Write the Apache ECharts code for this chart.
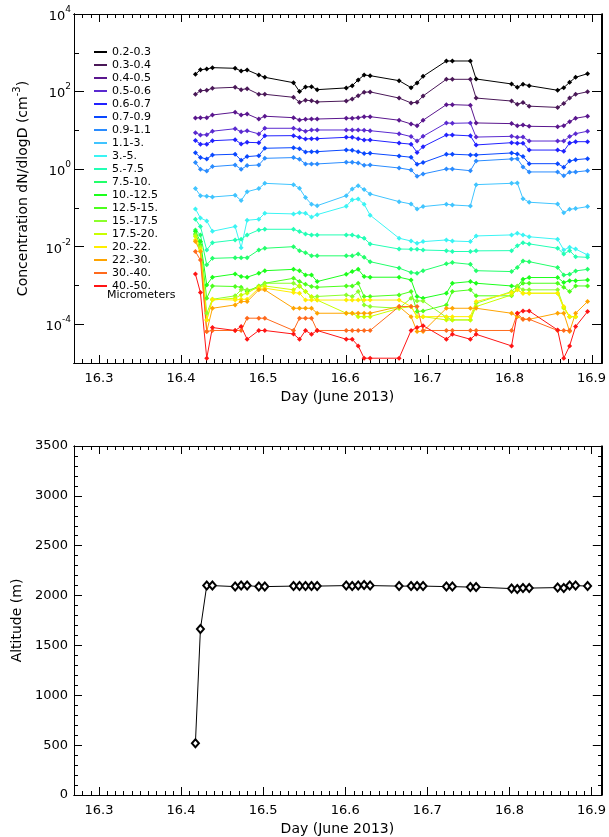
<!DOCTYPE html>
<html><head><meta charset="utf-8">
<script src="https://cdn.jsdelivr.net/npm/echarts@6.0.0/dist/echarts.min.js"></script>
<style>html,body{margin:0;padding:0;background:#fff}#c{width:609px;height:837px}</style>
</head><body><div id="c"></div>
<script>
// ---------- DATA ----------
const days = [16.4175, 16.4236, 16.4313, 16.4382, 16.4659, 16.4732, 16.4805, 16.4947, 16.5020,
  16.5370, 16.5443, 16.5516, 16.5589, 16.5658, 16.6012, 16.6085, 16.6158, 16.6230, 16.6303,
  16.6656, 16.6802, 16.6875, 16.6948, 16.7232, 16.7305, 16.7524, 16.7594, 16.8026, 16.8096,
  16.8165, 16.8241, 16.8587, 16.8662, 16.8733, 16.8806, 16.8952];

const altitude = [520, 1665, 2100, 2100, 2090, 2100, 2100, 2090, 2090, 2095, 2095, 2095, 2095, 2095,
  2100, 2095, 2100, 2105, 2100, 2095, 2095, 2095, 2095, 2090, 2090, 2085, 2085, 2070, 2065, 2075,
  2075, 2080, 2075, 2100, 2100, 2095];

const sizeBins = ['0.2-0.3', '0.3-0.4', '0.4-0.5', '0.5-0.6', '0.6-0.7', '0.7-0.9', '0.9-1.1',
  '1.1-3.', '3.-5.', '5.-7.5', '7.5-10.', '10.-12.5', '12.5-15.', '15.-17.5', '17.5-20.',
  '20.-22.', '22.-30.', '30.-40.', '40.-50.'];

const dN_02_03 = [279, 366, 382, 413, 398, 339, 360, 267, 233, 169, 100, 131, 134, 112, 124, 142, 200, 267, 257, 191, 126, 166, 247, 614, 614, 614, 211, 157, 129, 154, 142, 108, 126, 173, 233, 289];
const dN_03_04 = [85, 105, 108, 122, 129, 112, 119, 85, 85, 71, 53, 60, 58, 54, 57, 64, 78, 96, 98, 68, 51, 53, 77, 207, 207, 207, 68, 57, 47, 52, 42, 39, 49, 68, 85, 99];
const dN_04_05 = [20.8, 21.2, 21.2, 24.9, 29.2, 24.9, 26.4, 19.6, 23.1, 21.2, 18.5, 19.3, 19.6, 19.6, 20.5, 20.5, 21.2, 22.5, 22.5, 18.2, 14.6, 13.2, 18.2, 45.9, 45.9, 44.3, 15.5, 14.9, 13.2, 13.7, 12.7, 12.4, 13.2, 16.7, 20.5, 23.1];
const dN_05_06 = [8.7, 7.6, 7.7, 9.5, 11.0, 9.2, 9.8, 8.1, 11.3, 11.3, 10.4, 9.5, 10.2, 10.2, 10.2, 10.2, 10.2, 10.0, 9.8, 8.2, 6.9, 5.3, 7.0, 15.5, 15.2, 15.5, 6.7, 7.0, 6.6, 6.7, 5.3, 5.3, 5.3, 6.9, 8.2, 9.5];
const dN_06_07 = [5.5, 4.4, 4.4, 5.4, 5.75, 4.45, 4.9, 4.8, 7.2, 7.3, 6.5, 6.0, 6.1, 6.1, 6.6, 6.6, 6.1, 5.65, 5.65, 4.7, 4.4, 2.7, 3.8, 7.6, 7.6, 7.2, 4.2, 4.8, 4.65, 4.65, 3.1, 3.1, 2.9, 4.7, 5.1, 5.1];
const dN_07_09 = [2.65, 1.98, 1.83, 2.32, 2.42, 1.69, 2.1, 2.22, 3.45, 3.57, 3.37, 2.77, 2.82, 2.82, 3.12, 3.06, 2.82, 2.51, 2.56, 2.18, 2.02, 1.33, 1.47, 2.42, 2.42, 2.32, 2.32, 2.61, 2.46, 2.1, 1.38, 1.38, 1.12, 1.62, 1.75, 1.86];
const dN_09_11 = [1.47, 0.99, 0.895, 1.16, 1.28, 0.99, 1.23, 1.28, 1.9, 1.98, 1.8, 1.36, 1.36, 1.36, 1.5, 1.5, 1.44, 1.26, 1.28, 1.07, 0.95, 0.65, 0.75, 1.01, 1.01, 0.91, 1.62, 1.83, 1.86, 1.14, 0.845, 0.845, 0.67, 0.83, 0.845, 0.91];
const dN_11_3 = [0.314, 0.207, 0.2, 0.191, 0.212, 0.154, 0.262, 0.314, 0.43, 0.398, 0.32, 0.184, 0.124, 0.114, 0.207, 0.308, 0.375, 0.296, 0.229, 0.145, 0.126, 0.094, 0.108, 0.124, 0.119, 0.112, 0.398, 0.43, 0.44, 0.173, 0.14, 0.126, 0.075, 0.092, 0.096, 0.108];
const dN_3_5 = [0.094, 0.055, 0.046, 0.025, 0.033, 0.0094, 0.048, 0.051, 0.073, 0.07, 0.075, 0.073, 0.058, 0.067, 0.11, 0.163, 0.17, 0.124, 0.065, 0.0165, 0.014, 0.0122, 0.0135, 0.0149, 0.014, 0.0135, 0.0189, 0.0201, 0.0222, 0.0201, 0.018, 0.0156, 0.0082, 0.0097, 0.0087, 0.0061];
const dN_5_75 = [0.051, 0.033, 0.0082, 0.0127, 0.0149, 0.0155, 0.0201, 0.027, 0.0281, 0.0281, 0.0245, 0.0213, 0.0201, 0.0201, 0.0201, 0.0201, 0.0182, 0.0165, 0.0118, 0.0087, 0.0086, 0.0086, 0.0082, 0.0079, 0.0075, 0.0075, 0.0078, 0.0079, 0.0105, 0.0127, 0.0118, 0.0091, 0.0065, 0.0079, 0.0055, 0.0053];
const dN_75_10 = [0.027, 0.0201, 0.0034, 0.005, 0.0052, 0.0052, 0.0052, 0.0082, 0.0091, 0.01, 0.0079, 0.007, 0.0058, 0.0058, 0.0058, 0.0058, 0.0065, 0.0053, 0.0041, 0.0028, 0.00215, 0.00206, 0.0024, 0.0036, 0.0039, 0.0035, 0.0024, 0.00228, 0.0029, 0.0043, 0.0041, 0.0029, 0.00187, 0.00194, 0.00237, 0.0026];
const dN_10_125 = [0.0245, 0.0135, 0.00103, 0.00163, 0.00198, 0.00169, 0.00163, 0.00206, 0.0024, 0.0026, 0.0024, 0.00187, 0.00187, 0.00126, 0.00194, 0.00228, 0.0026, 0.00169, 0.00163, 0.00163, 0.00139, 0.00052, 0.00047, 0.00063, 0.00114, 0.00126, 0.00114, 0.00097, 0.00094, 0.00145, 0.0016, 0.0016, 0.00119, 0.00133, 0.00133, 0.00139];
const dN_125_15 = [0.0213, 0.0111, 0.00047, 0.00097, 0.00094, 0.0009, 0.000695, 0.00097, 0.00114, 0.00153, 0.00126, 0.00107, 0.00094, 0.0009, 0.00097, 0.00097, 0.00114, 0.00052, 0.00052, 0.00057, 0.000695, 0.000212, 0.00022, 0.000315, 0.000695, 0.00077, 0.00054, 0.00054, 0.00085, 0.00114, 0.00114, 0.00114, 0.0009, 0.000695, 0.00097, 0.00097];
const dN_15_175 = [0.0201, 0.01, 0.000192, 0.00044, 0.00054, 0.00077, 0.00077, 0.00085, 0.00114, 0.00114, 0.00094, 0.000695, 0.0005, 0.00052, 0.00057, 0.00052, 0.000695, 0.000315, 0.000285, 0.000258, 0.00047, 0.0004, 0.0004, 0.000151, 0.000129, 0.000129, 0.000347, 0.000695, 0.00097, 0.00077, 0.00077, 0.00077, 0.000275, 0.000157, 0.000157, null];
const dN_175_20 = [0.0182, 0.0091, 0.000129, 0.00042, 0.00047, 0.00057, 0.00063, 0.00094, 0.00097, 0.00077, 0.001, 0.000695, 0.00052, 0.00042, 0.000192, 0.000192, 0.000157, 0.000157, 0.000157, 0.000258, 0.000285, 0.000157, 0.000157, 0.000129, 0.000129, 0.000129, 0.000285, 0.00057, 0.00077, 0.00063, 0.00063, 0.00063, 0.000258, 0.000157, 0.000157, null];
const dN_20_22 = [0.0149, 0.0082, 0.000129, 0.00044, 0.00042, 0.00044, 0.00044, 0.00085, 0.00085, 0.000655, 0.00063, 0.00042, 0.00042, 0.00042, 0.00042, 0.00042, 0.00042, 0.00042, 0.00042, 0.00042, 0.000285, 0.000157, 0.000157, 0.000157, 0.000157, 0.000157, 0.000384, 0.000655, 0.00077, 0.00063, 0.00063, 0.00063, 0.000285, 0.000157, 0.000157, null];
const dN_22_30 = [0.0135, 0.0075, 0.000065, 0.000258, 0.000315, 0.000384, 0.000384, 0.00077, 0.00077, 0.000258, 0.000258, 0.000258, 0.000258, 0.000192, 0.000192, 0.000192, 0.000192, 0.000192, 0.000192, 0.000285, 0.000157, 0.000065, 0.000065, 0.000258, 0.000258, 0.000258, 0.000258, 0.000192, 0.000157, 0.000134, 0.000134, 0.000192, 0.000192, 0.000065, 0.000192, 0.000384];
const dN_30_40 = [0.0075, 0.0045, 0.000065, 0.000069, 0.000069, 0.000069, 0.000143, 0.000143, 0.000143, 0.000069, 0.000143, 0.000143, 0.000143, 0.000069, 0.000069, 0.000069, 0.000069, 0.000069, 0.000069, 0.000285, 0.000285, 0.000285, 0.000069, 0.000069, 0.000069, 0.000069, 0.000069, 0.000069, 0.000192, 0.000134, 0.000134, 0.000069, 0.000069, 0.000069, null, null];
const dN_40_50 = [0.00198, 0.000655, 0.0000133, 0.000082, 0.000069, 0.000087, 0.000041, 0.000069, 0.000069, 0.000056, 0.000041, 0.000069, 0.000055, 0.000069, 0.000041, 0.000041, 0.0000276, 0.0000133, 0.0000133, 0.0000133, 0.000069, 0.000082, 0.000092, 0.000041, 0.000055, 0.000041, 0.000055, 0.0000276, 0.000192, 0.00022, 0.00022, 0.000071, 0.0000133, 0.0000276, 0.000087, 0.000212];

const concentrations = [dN_02_03, dN_03_04, dN_04_05, dN_05_06, dN_06_07, dN_07_09, dN_09_11, dN_11_3,
  dN_3_5, dN_5_75, dN_75_10, dN_10_125, dN_125_15, dN_15_175, dN_175_20, dN_20_22, dN_22_30, dN_30_40, dN_40_50];

// tick values
const dayTicks = [16.3, 16.4, 16.5, 16.6, 16.7, 16.8, 16.9];
const concTicksLabeled = [1e-4, 1e-2, 1, 1e2, 1e4];
const concTicksOdd = [1e-5, 1e-3, 1e-1, 1e1, 1e3];
const altTicks = [0, 500, 1000, 1500, 2000, 2500, 3000, 3500];

// ---------- STYLE ----------
const binColors = ['#000000', '#4a1858', '#5a168e', '#5a2ad0', '#2222ff', '#0a48ff', '#2a8cff',
  '#40c4ff', '#3af4f4', '#22ffb4', '#22ff6a', '#1cff1c', '#4cff1c', '#8cff2c', '#c8ff00',
  '#ffee00', '#ffa400', '#ff6a1c', '#ff1414'];
const FONT = 'DejaVu Sans';
const X_MIN = 16.2696, X_MAX = 16.9113;
const Y_MIN = 1e-5, Y_MAX = 1e4;
const TICK = { color: '#000', width: 1 };

const dayMinor = [];
for (let i = 0; i <= 64; i++) {
  const v = Math.round((16.27 + i * 0.01) * 100) / 100;
  if (v > X_MAX) break;
  if (Math.abs(v * 10 - Math.round(v * 10)) > 1e-6) dayMinor.push(v);
}
const altMinor = [];
for (let v = 100; v < 3500; v += 100) if (v % 500 !== 0) altMinor.push(v);
const expOf = v => Math.round(Math.log10(v));

function xAx(g, pos, ticks, len, withLabels) {
  const a = {
    type: 'value', gridIndex: g, position: pos, min: X_MIN, max: X_MAX,
    axisLine: { show: true, onZero: false, lineStyle: { color: '#000', width: 1 } },
    axisTick: ticks ? { show: true, inside: true, length: len, customValues: ticks, lineStyle: TICK } : { show: false },
    axisLabel: { show: false },
    splitLine: { show: false }
  };
  if (withLabels) {
    a.axisLabel = { show: true, customValues: dayTicks, formatter: v => v.toFixed(1),
      fontSize: 13, fontFamily: FONT, color: '#000', margin: 9 };
    a.name = 'Day (June 2013)'; a.nameLocation = 'middle'; a.nameGap = 27;
    a.nameTextStyle = { fontSize: 14, fontFamily: FONT, color: '#000' };
  }
  return a;
}
// main log axis (series + labels)
function logY(pos, withLabels) {
  const a = {
    type: 'log', logBase: 10, gridIndex: 0, position: pos, min: Y_MIN, max: Y_MAX,
    axisLine: { show: true, onZero: false, lineStyle: { color: '#000', width: 1 } },
    axisTick: { show: false },
    axisLabel: { show: false },
    splitLine: { show: false }
  };
  if (withLabels) {
    a.axisLabel = {
      show: true, customValues: concTicksLabeled, margin: 3,
      formatter: v => '{b|10}{s|' + expOf(v) + '}',
      rich: {
        b: { fontSize: 13, fontFamily: FONT, color: '#000', lineHeight: 18, verticalAlign: 'bottom' },
        s: { fontSize: 9, fontFamily: FONT, color: '#000', lineHeight: 11, verticalAlign: 'top' }
      }
    };
    a.name = '{a|Concentration dN/dlogD (cm}{s|-3}{a|)}';
    a.nameLocation = 'middle'; a.nameGap = 44;
    a.nameTextStyle = { rich: {
      a: { fontSize: 14, fontFamily: FONT, color: '#000', lineHeight: 18, verticalAlign: 'bottom' },
      s: { fontSize: 10, fontFamily: FONT, color: '#000', lineHeight: 11, verticalAlign: 'top' } } };
  }
  return a;
}
// decade tick marks of the log axis, drawn on an overlay axis spanning the same decades
function decadeY(g, pos, ticks, len) {
  return {
    type: 'value', gridIndex: g, position: pos, min: expOf(Y_MIN), max: expOf(Y_MAX),
    axisLine: { show: true, onZero: false, lineStyle: { color: '#000', width: 1 } },
    axisTick: { show: true, inside: true, length: len, customValues: ticks.map(expOf), lineStyle: TICK },
    axisLabel: { show: false }, splitLine: { show: false }
  };
}
function altY(g, pos, ticks, len, withLabels) {
  const a = {
    type: 'value', gridIndex: g, position: pos, min: 0, max: 3500,
    axisLine: { show: true, onZero: false, lineStyle: { color: '#000', width: 1 } },
    axisTick: { show: true, inside: true, length: len, customValues: ticks, lineStyle: TICK },
    axisLabel: { show: false },
    splitLine: { show: false }
  };
  if (withLabels) {
    a.axisLabel = { show: true, customValues: altTicks, fontSize: 13, fontFamily: FONT, color: '#000',
      margin: 6, formatter: v => String(v) };
    a.name = 'Altitude (m)'; a.nameLocation = 'middle'; a.nameGap = 47;
    a.nameTextStyle = { fontSize: 14, fontFamily: FONT, color: '#000' };
  }
  return a;
}

const topGrid = { left: 74, top: 14, width: 528, height: 349 };
const botGrid = { left: 74, top: 446, width: 528, height: 349 };
const cp = o => Object.assign({}, o);

const series = sizeBins.map((name, i) => ({
  name, type: 'line', xAxisIndex: 0, yAxisIndex: 0,
  data: days.map((d, k) => [d, concentrations[i][k]]).filter(p => p[1] != null),
  symbol: 'diamond', symbolSize: 5,
  lineStyle: { width: 1, color: binColors[i] },
  itemStyle: { color: binColors[i] }
}));
series.push({
  name: 'Altitude', type: 'line', xAxisIndex: 6, yAxisIndex: 6,
  data: days.map((d, k) => [d, altitude[k]]),
  symbol: 'emptyDiamond', symbolSize: [7, 8],
  lineStyle: { width: 1, color: '#000' },
  itemStyle: { color: '#000', borderWidth: 1 }
});

const option = {
  animation: false,
  grid: [cp(topGrid), cp(topGrid), cp(topGrid), cp(botGrid), cp(botGrid)],
  xAxis: [
    xAx(0, 'bottom', null, 0, true),
    xAx(0, 'top', null, 0, false),
    xAx(1, 'bottom', dayTicks, 8, false),
    xAx(1, 'top', dayTicks, 8, false),
    xAx(2, 'bottom', dayMinor, 4, false),
    xAx(2, 'top', dayMinor, 4, false),
    xAx(3, 'bottom', dayTicks, 8, true),
    xAx(3, 'top', dayTicks, 8, false),
    xAx(4, 'bottom', dayMinor, 4, false),
    xAx(4, 'top', dayMinor, 4, false)
  ],
  yAxis: [
    logY('left', true),
    logY('right', false),
    decadeY(1, 'left', concTicksLabeled, 10),
    decadeY(1, 'right', concTicksLabeled, 10),
    decadeY(2, 'left', concTicksOdd, 5),
    decadeY(2, 'right', concTicksOdd, 5),
    altY(3, 'left', altTicks, 8, true),
    altY(3, 'right', altTicks, 8, false),
    altY(4, 'left', altMinor, 4, false),
    altY(4, 'right', altMinor, 4, false)
  ],
  legend: {
    data: sizeBins, orient: 'vertical', left: 89, top: 40.5,
    itemWidth: 13, itemHeight: 2, itemGap: 0, icon: 'rect', selectedMode: false,
    textStyle: { fontSize: 11, lineHeight: 13, fontFamily: FONT, color: '#000' }
  },
  graphic: [{
    type: 'text', left: 107, top: 290,
    style: { text: 'Micrometers', fontSize: 11, fontFamily: FONT, fill: '#000' }
  }],
  series
};

const chart = echarts.init(document.getElementById('c'), null, { renderer: 'canvas' });
chart.setOption(option);
</script></body></html>
